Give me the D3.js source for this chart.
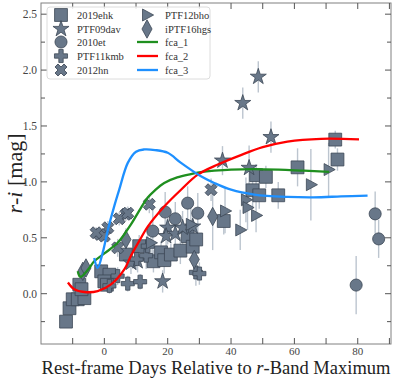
<!DOCTYPE html>
<html>
<head>
<meta charset="utf-8">
<script src="https://d3js.org/d3.v7.min.js"></script>
<style>
  body { margin: 0; background: #fff; }
  svg text { font-family: "Liberation Serif", "DejaVu Serif", serif; }
</style>
</head>
<body>
<svg id="chart" width="399" height="378"></svg>
<script>
// ---- data ----
const ehkX = [-12.1, -11, -10, -8.4, -6.3, -7.9, -7.2, -1, 1.6, 0, 0.8, 6.8, 11, 15.5, 17.9, 18.9, 21, 24, 26.3, 27.9, 29, 37.7, 46.8, 48.9, 54.9, 47.9, 51, 61, 72.9, 73.6];
const ehkY = [-0.25, -0.13, -0.05, -0.05, -0.04, 0.08, 0.04, 0.2, 0.17, 0.11, 0.08, 0.35, 0.425, 0.29, 0.37, 0.3, 0.35, 0.385, 0.515, 0.42, 0.485, 0.65, 0.925, 0.88, 0.88, 1.06, 1.045, 1.13, 1.378, 1.2];
const ehkE = [0.03, 0.03, 0.03, 0.03, 0.03, 0.04, 0.04, 0.06, 0.06, 0.06, 0.06, 0.08, 0.1, 0.1, 0.1, 0.12, 0.1, 0.12, 0.14, 0.12, 0.12, 0.12, 0.15, 0.12, 0.12, 0.1, 0.1, 0.17, 0.08, 0.1];

const davX = [48.6, 43.7, 52.6, 37.3, 45.7, 20, 19.5, 22.4, 24.7, 27.9, 8.4, 10.5, 18.4];
const davY = [1.94, 1.705, 1.40, 1.19, 1.125, 0.59, 0.515, 0.535, 0.59, 0.60, 0.277, 0.29, 0.11];
const davE = [0.14, 0.14, 0.14, 0.13, 0.2, 0.15, 0.15, 0.12, 0.15, 0.15, 0.1, 0.1, 0.1];

const etX = [26.3, 29.5, 19.2, 22.4, 15.3, 85.5, 86.6, 79.5];
const etY = [0.81, 0.72, 0.73, 0.67, 0.56, 0.714, 0.49, 0.077];
const etE = [0.15, 0.18, 0.18, 0.15, 0.2, 0.2, 0.17, 0.26];

const kmbX = [4.2, 1.6, 7.4, 11.3, 10.2, 13.2, 13.7, 28.9, 30];
const kmbY = [0.157, 0.07, 0.09, 0.107, 0.31, 0.34, 0.425, 0.19, 0.18];
const kmbE = [0.08, 0.07, 0.07, 0.07, 0.1, 0.12, 0.12, 0.12, 0.1];

const hnX = [6.8, 4.7, 1.1, -1.4, 0, -2.6, 4.2, 14.2, 33.7, 7.4];
const hnY = [0.71, 0.67, 0.59, 0.53, 0.515, 0.545, 0.41, 0.80, 0.93, 0.72];
const hnE = [0.06, 0.06, 0.06, 0.05, 0.05, 0.05, 0.08, 0.08, 0.1, 0.06];

const bhoX = [38.1, 42.9, 44.7, 45.2, 47.9, 65.2, 70.8, 14.7, 27.3];
const bhoY = [0.74, 0.57, 0.84, 0.77, 0.70, 0.975, 1.11, 0.455, 0.62];
const bhoE = [0.2, 0.18, 0.2, 0.2, 0.15, 0.32, 0.24, 0.15, 0.15];

const hgsX = [-6.8, -5.8, 6.8, 28.4, 34.2];
const hgsY = [0.2, 0.23, 0.485, 0.306, 0.69];
const hgsE = [0.04, 0.04, 0.1, 0.12, 0.3];

const fca1X = [-8.4, -7.6, -5, -3.2, 0, 4.2, 8.4, 11.6, 13.7, 15.8, 18.9, 23, 27.3, 31, 34.7, 40, 47, 55, 63, 71];
const fca1Y = [0.20, 0.15, 0.22, 0.29, 0.36, 0.455, 0.62, 0.77, 0.86, 0.92, 0.99, 1.04, 1.07, 1.09, 1.10, 1.11, 1.115, 1.11, 1.10, 1.09];
const fca2X = [-11.5, -9.5, -6.3, -2.1, 2.1, 6.3, 8.4, 11.6, 13.7, 18.9, 24.2, 29.5, 35.8, 43.1, 50, 57.8, 68.4, 80.4];
const fca2Y = [0.10, 0.04, 0.015, 0.023, 0.083, 0.217, 0.34, 0.5, 0.6, 0.78, 0.93, 1.065, 1.155, 1.24, 1.31, 1.36, 1.385, 1.38];
const fca3X = [-3.2, -2.1, -0.5, 1.1, 3, 4.7, 7.4, 10, 12.6, 16, 20, 24.2, 30.5, 34.7, 40, 47.3, 57.8, 66, 74.7, 83.1];
const fca3Y = [0.32, 0.23, 0.37, 0.57, 0.77, 0.93, 1.17, 1.27, 1.29, 1.285, 1.26, 1.17, 1.05, 0.99, 0.93, 0.887, 0.866, 0.862, 0.87, 0.878];

const xTicks = [0, 20, 40, 60, 80];
const yTicks = [0, 0.5, 1.0, 1.5, 2.0, 2.5];

// ---- setup ----
const svg = d3.select("#chart");
const pL = 41, pR = 391, pT = 3, pB = 344;
const x = d3.scaleLinear().domain([-20, 90.5]).range([pL, pR]);
const y = d3.scaleLinear().domain([-0.45, 2.6]).range([pB, pT]);

const fillCol = "#687789", edgeCol = "#3c4756", errCol = "#bcc5cf";

// custom shapes
const thinDiamond = {
  draw(ctx, size) {
    const h = Math.sqrt(size) * 0.75, w = h * 0.55;
    ctx.moveTo(0, -h); ctx.lineTo(w, 0); ctx.lineTo(0, h); ctx.lineTo(-w, 0); ctx.closePath();
  }
};
const triRight = {
  draw(ctx, size) {
    const s = Math.sqrt(size) * 0.6;
    ctx.moveTo(s * 1.1, 0); ctx.lineTo(-s * 0.75, -s); ctx.lineTo(-s * 0.75, s); ctx.closePath();
  }
};

const series = [
  { name: "2019ehk", xs: ehkX, ys: ehkY, es: ehkE, sym: d3.symbolSquare, size: 165, rot: 0 },
  { name: "PTF09dav", xs: davX, ys: davY, es: davE, sym: d3.symbolStar, size: 80, rot: 0 },
  { name: "2010et", xs: etX, ys: etY, es: etE, sym: d3.symbolCircle, size: 115, rot: 0 },
  { name: "PTF11kmb", xs: kmbX, ys: kmbY, es: kmbE, sym: d3.symbolCross, size: 95, rot: 0 },
  { name: "2012hn", xs: hnX, ys: hnY, es: hnE, sym: d3.symbolCross, size: 90, rot: 45 },
  { name: "PTF12bho", xs: bhoX, ys: bhoY, es: bhoE, sym: triRight, size: 100, rot: 0 },
  { name: "iPTF16hgs", xs: hgsX, ys: hgsY, es: hgsE, sym: thinDiamond, size: 150, rot: 0 }
];

const curves = [
  { name: "fca_1", xs: fca1X, ys: fca1Y, color: "#1f8f1f" },
  { name: "fca_2", xs: fca2X, ys: fca2Y, color: "#ff0000" },
  { name: "fca_3", xs: fca3X, ys: fca3Y, color: "#1e90ff" }
];

svg.append("clipPath").attr("id", "clip")
  .append("rect").attr("x", pL).attr("y", pT).attr("width", pR - pL).attr("height", pB - pT);

const plot = svg.append("g").attr("clip-path", "url(#clip)");

// error bars first
series.forEach(s => {
  plot.append("g").selectAll("line")
    .data(s.xs.map((v, i) => ({ x: v, y: s.ys[i], e: s.es[i] })))
    .enter().append("line")
    .attr("x1", d => x(d.x)).attr("x2", d => x(d.x))
    .attr("y1", d => y(d.y - d.e)).attr("y2", d => y(d.y + d.e))
    .attr("stroke", errCol).attr("stroke-width", 1.4);
});

// markers
series.forEach(s => {
  const sym = d3.symbol().type(s.sym).size(s.size);
  plot.append("g").selectAll("path")
    .data(s.xs.map((v, i) => ({ x: v, y: s.ys[i] })))
    .enter().append("path")
    .attr("d", sym)
    .attr("transform", d => `translate(${x(d.x)},${y(d.y)}) rotate(${s.rot})`)
    .attr("fill", fillCol).attr("stroke", edgeCol).attr("stroke-width", 0.8);
});

// curves
const line = d3.line().curve(d3.curveCatmullRom).x(d => x(d[0])).y(d => y(d[1]));
curves.forEach(c => {
  plot.append("path")
    .attr("d", line(c.xs.map((v, i) => [v, c.ys[i]])))
    .attr("fill", "none").attr("stroke", c.color).attr("stroke-width", 2.3);
});

// frame
svg.append("rect").attr("x", pL).attr("y", pT).attr("width", pR - pL).attr("height", pB - pT)
  .attr("fill", "none").attr("stroke", "#808080").attr("stroke-width", 1);

// ticks on all sides, pointing in
const tickCol = "#555";
const xMinor = d3.range(-10, 91, 20);
const yMinor = d3.range(-0.25, 2.6, 0.5);
function xTickMarks(vals, len) {
  vals.forEach(v => {
    svg.append("line").attr("x1", x(v)).attr("x2", x(v)).attr("y1", pB).attr("y2", pB - len).attr("stroke", tickCol);
    svg.append("line").attr("x1", x(v)).attr("x2", x(v)).attr("y1", pT).attr("y2", pT + len).attr("stroke", tickCol);
  });
}
function yTickMarks(vals, len) {
  vals.forEach(v => {
    svg.append("line").attr("y1", y(v)).attr("y2", y(v)).attr("x1", pL).attr("x2", pL + len).attr("stroke", tickCol);
    svg.append("line").attr("y1", y(v)).attr("y2", y(v)).attr("x1", pR).attr("x2", pR - len).attr("stroke", tickCol);
  });
}
xTickMarks(xTicks, 6); xTickMarks(xMinor, 6);
yTickMarks(yTicks, 6); yTickMarks(yMinor, 4);

svg.append("g").selectAll("text").data(xTicks).enter().append("text")
  .attr("x", d => x(d)).attr("y", pB + 11).attr("text-anchor", "middle")
  .attr("font-size", 11).attr("fill", "#444").text(d => d);
svg.append("g").selectAll("text").data(yTicks).enter().append("text")
  .attr("x", pL - 4).attr("y", d => y(d) + 4).attr("text-anchor", "end")
  .attr("font-size", 11.5).attr("fill", "#444").text(d => d3.format(".1f")(d));

// axis labels
const xl = svg.append("text").attr("x", 216).attr("y", 374).attr("text-anchor", "middle")
  .attr("font-size", 18.5).attr("fill", "#222");
xl.append("tspan").text("Rest-frame Days Relative to ");
xl.append("tspan").attr("font-style", "italic").text("r");
xl.append("tspan").text("-Band Maximum");

const yl = svg.append("text").attr("transform", `translate(22,${(pT + pB) / 2}) rotate(-90)`)
  .attr("text-anchor", "middle").attr("font-size", 22).attr("fill", "#222");
yl.append("tspan").attr("font-style", "italic").text("r");
yl.append("tspan").text("-");
yl.append("tspan").attr("font-style", "italic").text("i");
yl.append("tspan").text(" [mag]");

// legend
const lg = svg.append("g");
lg.append("rect").attr("x", 47).attr("y", 7).attr("width", 163).attr("height", 72).attr("rx", 3)
  .attr("fill", "#fff").attr("fill-opacity", 0.85).attr("stroke", "#dcdcdc");
const rowY = [15, 29, 42, 56, 70];
series.forEach((s, i) => {
  const col = i < 5 ? 0 : 1, row = i < 5 ? i : i - 5;
  const mx = col ? 147 : 61;
  lg.append("path").attr("d", d3.symbol().type(s.sym).size(s.size)())
    .attr("transform", `translate(${mx},${rowY[row]}) rotate(${s.rot})`)
    .attr("fill", fillCol).attr("stroke", edgeCol).attr("stroke-width", 0.8);
  lg.append("text").attr("x", col ? 165 : 77).attr("y", rowY[row] + 3.5)
    .attr("font-size", 10.5).attr("fill", "#333").text(s.name);
});
curves.forEach((c, i) => {
  const ry = rowY[i + 2];
  lg.append("line").attr("x1", 137).attr("x2", 158).attr("y1", ry).attr("y2", ry)
    .attr("stroke", c.color).attr("stroke-width", 2.3);
  lg.append("text").attr("x", 165).attr("y", ry + 3.5).attr("font-size", 10.5).attr("fill", "#333").text(c.name);
});
</script>
</body>
</html>
